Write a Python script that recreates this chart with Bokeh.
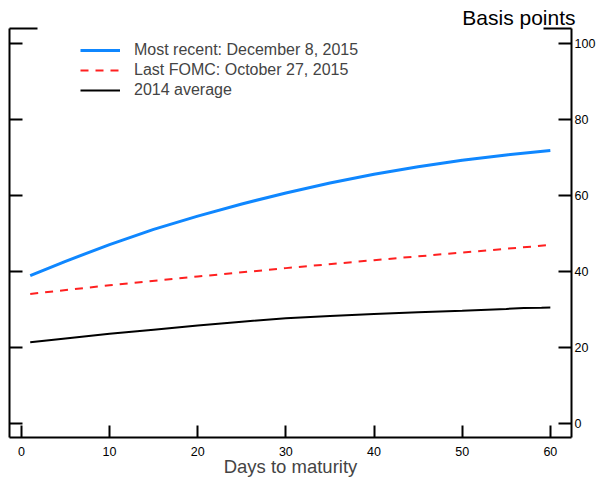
from bokeh.plotting import figure
from bokeh.models import Range1d, LinearAxis, FixedTicker, Legend, LegendItem
from bokeh.embed import file_html
from bokeh.resources import INLINE

# ---- data ----
days_recent = [1, 5, 10, 15, 20, 25, 30, 35, 40, 45, 50, 55, 60]
recent = [38.8, 42.6, 47.0, 51.0, 54.5, 57.7, 60.6, 63.2, 65.5, 67.5, 69.2, 70.6, 71.8]

days_fomc = [1, 10, 20, 30, 40, 50, 60]
fomc = [34.0, 36.3, 38.6, 40.8, 42.9, 44.9, 46.9]

days_avg = [1, 5, 10, 15, 20, 25, 30, 35, 40, 45, 50, 55, 57, 59, 60]
avg = [21.3, 22.3, 23.5, 24.6, 25.7, 26.7, 27.6, 28.2, 28.7, 29.2, 29.6, 30.05, 30.3, 30.35, 30.4]

x_ticks = [0, 10, 20, 30, 40, 50, 60]
y_ticks = [0, 20, 40, 60, 80, 100]

series_labels = ["Most recent: December 8, 2015",
                 "Last FOMC: October 27, 2015",
                 "2014 average"]
x_title = "Days to maturity"
y_title = "Basis points"

# ---- layout ----
X_LO, X_HI = -1.35, 62.4
Y_LO, Y_HI = -3.8, 103.9
FONT = "Liberation Sans"

p = figure(width=598, height=480,
           x_range=Range1d(X_LO, X_HI), y_range=Range1d(Y_LO, Y_HI),
           output_backend="svg", toolbar_location=None,
           x_axis_location=None, y_axis_location=None,
           min_border_left=9, min_border_right=25, min_border_top=28, min_border_bottom=43)
p.outline_line_color = None
p.grid.visible = False
p.background_fill_color = "white"
p.border_fill_color = "white"

# "Basis points" unit label at top right, as the figure title
p.title.text = y_title
p.title.align = "right"
p.title.text_font = FONT
p.title.text_font_size = "21px"
p.title.text_font_style = "normal"
p.title.text_color = "black"
p.title.standoff = 0
p.title.offset = -4

def style_axis(ax, ticks, tick_in, minor=None):
    ax.ticker = FixedTicker(ticks=ticks, minor_ticks=minor or [])
    ax.axis_line_width = 2
    ax.axis_line_color = "black"
    ax.major_tick_line_width = 2
    ax.major_tick_line_color = "black"
    ax.major_tick_in = tick_in
    ax.major_tick_out = 0
    ax.minor_tick_line_width = 2
    ax.minor_tick_line_color = "black"
    ax.minor_tick_in = tick_in
    ax.minor_tick_out = 0
    ax.major_label_text_font = FONT
    ax.major_label_text_color = "black"
    ax.major_label_text_font_size = "12.5px"

# bottom axis
xb = LinearAxis()
style_axis(xb, x_ticks, 12)
xb.major_label_standoff = 9
xb.axis_label = x_title
xb.axis_label_text_font = FONT
xb.axis_label_text_font_size = "18.5px"
xb.axis_label_text_font_style = "normal"
xb.axis_label_standoff = -3
p.add_layout(xb, "below")

# left axis: ticks only (drawn as minor ticks, which carry no labels)
yl = LinearAxis()
style_axis(yl, [], 13, minor=y_ticks)
p.add_layout(yl, "left")

# right axis
yr = LinearAxis()
style_axis(yr, y_ticks, 13)
yr.major_label_standoff = 3
p.add_layout(yr, "right")

# partial top lines
for b in [(X_LO, X_LO + 3.2), (X_HI - 3.2, X_HI)]:
    t = LinearAxis(bounds=b)
    style_axis(t, [], 0)
    p.add_layout(t, "above")

# lines
r1 = p.line(days_recent, recent, line_color="#0f87ff", line_width=3)
r2 = p.line(days_fomc, fomc, line_color="#ff2020", line_width=2, line_dash="8 7")
r3 = p.line(days_avg, avg, line_color="black", line_width=2)

legend = Legend(items=[LegendItem(label=series_labels[0], renderers=[r1]),
                       LegendItem(label=series_labels[1], renderers=[r2]),
                       LegendItem(label=series_labels[2], renderers=[r3])],
                location=(71, 337), padding=0, margin=0, spacing=0,
                glyph_width=40, glyph_height=20, label_height=20,
                label_standoff=14, label_text_font=FONT, label_text_font_size="16px",
                border_line_color=None, background_fill_alpha=0)
p.add_layout(legend, "center")

open("out.html", "w").write(file_html(p, INLINE))
